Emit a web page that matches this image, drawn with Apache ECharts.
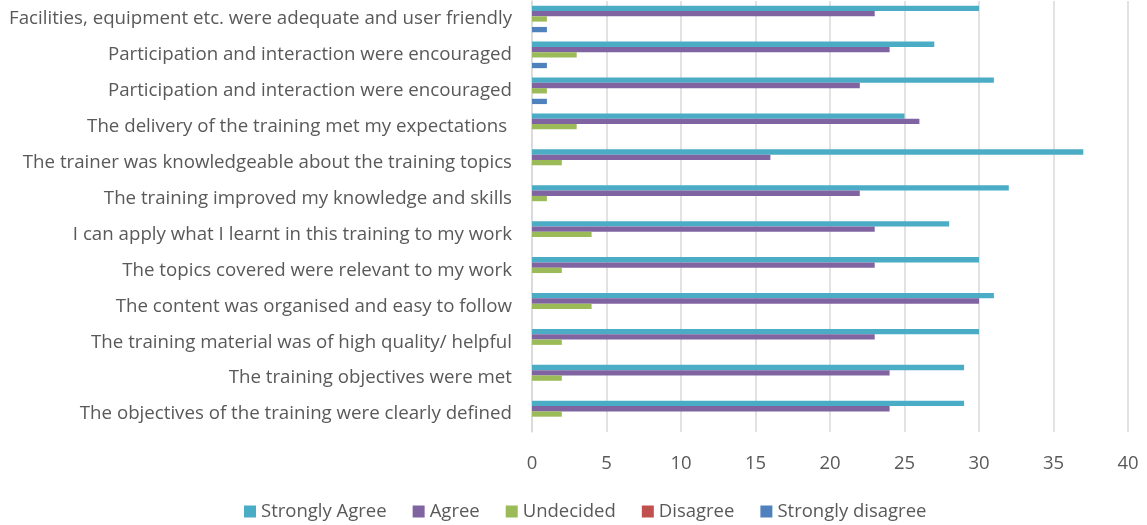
<!DOCTYPE html>
<html>
<head>
<meta charset="utf-8">
<script src="https://cdn.jsdelivr.net/npm/echarts@6/dist/echarts.min.js"></script>
<style>
  html, body { margin: 0; padding: 0; background: #fff; }
  #chart { width: 1147px; height: 525px; }
</style>
</head>
<body>
<div id="chart"></div>
<script>
// categories, listed top to bottom as in the picture
const statements = [
  'Facilities, equipment etc. were adequate and user friendly',
  'Participation and interaction were encouraged',
  'Participation and interaction were encouraged',
  'The delivery of the training met my expectations ',
  'The trainer was knowledgeable about the training topics',
  'The training improved my knowledge and skills',
  'I can apply what I learnt in this training to my work',
  'The topics covered were relevant to my work',
  'The content was organised and easy to follow',
  'The training material was of high quality/ helpful',
  'The training objectives were met',
  'The objectives of the training were clearly defined'
]

const stronglyAgree    = [30, 27, 31, 25, 37, 32, 28, 30, 31, 30, 29, 29]
const agree            = [23, 24, 22, 26, 16, 22, 23, 23, 30, 23, 24, 24]
const undecided        = [1, 3, 1, 3, 2, 1, 4, 2, 4, 2, 2, 2]
const disagree         = [0, 0, 0, 0, 0, 0, 0, 0, 0, 0, 0, 0]
const stronglyDisagree = [1, 1, 1, 0, 0, 0, 0, 0, 0, 0, 0, 0]

const xTicks = [0, 5, 10, 15, 20, 25, 30, 35, 40]

const legendNames = ['Strongly Agree', 'Agree', 'Undecided', 'Disagree', 'Strongly disagree']

const font = 'Open Sans'
const textColor = '#595959'

const chart = echarts.init(document.getElementById('chart'), null, { renderer: 'canvas' })

function bar (name, data, color) {
  return {
    name,
    type: 'bar',
    data,
    barGap: '0%',
    barCategoryGap: '26%',
    itemStyle: { color },
    emphasis: { disabled: true }
  }
}

chart.setOption({
  animation: false,
  backgroundColor: '#ffffff',
  textStyle: { fontFamily: font },
  grid: { left: 532, right: 19, top: 1, bottom: 93, containLabel: false },
  legend: {
    data: legendNames,
    left: 239,
    top: 497,
    icon: 'rect',
    itemWidth: 12,
    itemHeight: 12,
    itemGap: 26,
    textStyle: { color: textColor, fontSize: 18.5, fontFamily: font }
  },
  xAxis: {
    type: 'value',
    min: xTicks[0],
    max: xTicks[xTicks.length - 1],
    interval: 5,
    axisLine: { show: false },
    axisTick: { show: false },
    axisLabel: { color: textColor, fontSize: 18.5, margin: 22, fontFamily: font },
    splitLine: { lineStyle: { color: '#d9d9d9', width: 1.5 } }
  },
  yAxis: {
    type: 'category',
    inverse: true,
    data: statements,
    axisLine: { show: true, lineStyle: { color: '#d9d9d9', width: 1.5 } },
    axisTick: { show: false },
    axisLabel: { color: textColor, fontSize: 18.7, margin: 20, fontFamily: font, interval: 0 }
  },
  series: [
    bar('Strongly Agree', stronglyAgree, '#4BACC6'),
    bar('Agree', agree, '#8064A2'),
    bar('Undecided', undecided, '#9BBB59'),
    bar('Disagree', disagree, '#C0504D'),
    bar('Strongly disagree', stronglyDisagree, '#4F81BD')
  ]
})
</script>
</body>
</html>
